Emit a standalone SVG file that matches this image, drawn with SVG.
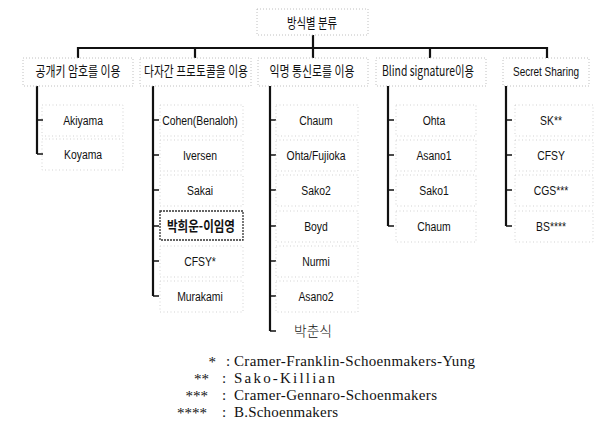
<svg xmlns="http://www.w3.org/2000/svg" width="604" height="422" viewBox="0 0 604 422">
<style>
.bx{fill:none;stroke:#c8c8c8;stroke-width:0.8;stroke-dasharray:1 2.5}
.cb{fill:none;stroke:#b0b0b0;stroke-width:0.8;stroke-dasharray:1 2}
.hb{fill:none;stroke:#333;stroke-width:1.3;stroke-dasharray:2 1}
.ln{stroke:#111;stroke-width:2.2;fill:none}
.tk{stroke:#111;stroke-width:1.6;fill:none}
.n{font-family:"Liberation Sans",Arial,sans-serif;font-size:13.5px;fill:#111;text-anchor:middle;transform-box:fill-box;transform-origin:center;transform:scaleX(0.77)}
.k{font-family:"Noto Sans CJK KR","Liberation Sans",sans-serif;font-size:14px;fill:#111;text-anchor:middle}
.lg{font-family:"Liberation Serif","Times New Roman",serif;font-size:15px;fill:#111}
</style>
<g id="connectors">
<path class="ln" d="M78,48H547M78,47V58M195,47V58M313,35V58M430,47V58M547,47V58"/>
<path class="ln" d="M37,86V154M153,86V296M270,86V331M388,86V226M506,86V226"/>
<path class="tk" d="M37,120h6M37,154h6M153,120h6M153,155h6M153,190h6M153,226h6M153,261h6M153,296h6M270,120h6M270,155h6M270,190h6M270,226h6M270,261h6M270,296h6M270,331h6M388,120h6M388,155h6M388,190h6M388,226h6M506,120h6M506,155h6M506,190h6M506,226h6"/>
</g>
<g id="root"><rect class="cb" x="257" y="9" width="111" height="26"/><text class="k" x="312" y="27.5" textLength="50" lengthAdjust="spacingAndGlyphs">방식별 분류</text></g>
<g id="cat1"><rect class="cb" x="23" y="58" width="110" height="28"/><text class="k" x="78" y="76" textLength="85" lengthAdjust="spacingAndGlyphs">공개키 암호를 이용</text></g>
<g id="cat2"><rect class="cb" x="140" y="58" width="111" height="28"/><text class="k" x="196" y="76" textLength="104" lengthAdjust="spacingAndGlyphs">다자간 프로토콜을 이용</text></g>
<g id="cat3"><rect class="cb" x="258" y="58" width="110" height="28"/><text class="k" x="312" y="76" textLength="85" lengthAdjust="spacingAndGlyphs">익명 통신로를 이용</text></g>
<g id="cat4"><rect class="cb" x="376" y="58" width="110" height="28"/><text class="k" x="428" y="76" textLength="92" lengthAdjust="spacingAndGlyphs">Blind signature이용</text></g>
<g id="cat5"><rect class="cb" x="503" y="58" width="86" height="28"/><text class="n" x="546" y="76.5" style="transform:scaleX(0.74)">Secret Sharing</text></g>
<g id="c1-1"><rect class="bx" x="42" y="105" width="81" height="31"/><text class="n" x="83" y="125">Akiyama</text></g>
<g id="c1-2"><rect class="bx" x="42" y="139" width="81" height="31"/><text class="n" x="83" y="159.5">Koyama</text></g>
<g id="c2-1"><rect class="bx" x="160" y="105" width="83" height="31"/><text class="n" x="200" y="125">Cohen(Benaloh)</text></g>
<g id="c2-2"><rect class="bx" x="160" y="140" width="83" height="31"/><text class="n" x="200" y="160">Iversen</text></g>
<g id="c2-3"><rect class="bx" x="160" y="175" width="83" height="31"/><text class="n" x="200" y="195">Sakai</text></g>
<g id="c2-4"><rect class="hb" x="160" y="211" width="83" height="29"/><text class="k" x="201" y="231" font-weight="bold" textLength="68" lengthAdjust="spacingAndGlyphs">박희운-이임영</text></g>
<g id="c2-5"><rect class="bx" x="160" y="246" width="83" height="31"/><text class="n" x="200" y="266">CFSY*</text></g>
<g id="c2-6"><rect class="bx" x="160" y="281" width="83" height="31"/><text class="n" x="200" y="301">Murakami</text></g>
<g id="c3-1"><rect class="bx" x="276" y="105" width="82" height="31"/><text class="n" x="316" y="125">Chaum</text></g>
<g id="c3-2"><rect class="bx" x="276" y="140" width="82" height="31"/><text class="n" x="316" y="160">Ohta/Fujioka</text></g>
<g id="c3-3"><rect class="bx" x="276" y="175" width="82" height="31"/><text class="n" x="316" y="195">Sako2</text></g>
<g id="c3-4"><rect class="bx" x="276" y="211" width="82" height="31"/><text class="n" x="316" y="231">Boyd</text></g>
<g id="c3-5"><rect class="bx" x="276" y="246" width="82" height="31"/><text class="n" x="316" y="266">Nurmi</text></g>
<g id="c3-6"><rect class="bx" x="276" y="281" width="82" height="31"/><text class="n" x="316" y="301">Asano2</text></g>
<g id="c3-7"><text class="k" x="313" y="336" font-size="12" font-weight="300" textLength="38" lengthAdjust="spacingAndGlyphs">박춘식</text></g>
<g id="c4-1"><rect class="bx" x="396" y="105" width="80" height="31"/><text class="n" x="434" y="125">Ohta</text></g>
<g id="c4-2"><rect class="bx" x="396" y="140" width="80" height="31"/><text class="n" x="434" y="160">Asano1</text></g>
<g id="c4-3"><rect class="bx" x="396" y="175" width="80" height="31"/><text class="n" x="434" y="195">Sako1</text></g>
<g id="c4-4"><rect class="bx" x="396" y="211" width="80" height="31"/><text class="n" x="434" y="231">Chaum</text></g>
<g id="c5-1"><rect class="bx" x="515" y="105" width="78" height="31"/><text class="n" x="551" y="125">SK**</text></g>
<g id="c5-2"><rect class="bx" x="515" y="140" width="78" height="31"/><text class="n" x="551" y="160">CFSY</text></g>
<g id="c5-3"><rect class="bx" x="515" y="175" width="78" height="31"/><text class="n" x="551" y="195">CGS***</text></g>
<g id="c5-4"><rect class="bx" x="515" y="211" width="78" height="31"/><text class="n" x="551" y="231">BS****</text></g>
<g id="legend">
<text class="lg" x="216" y="367" text-anchor="end">*</text><text class="lg" x="226" y="366">:</text><text class="lg" x="234" y="366" textLength="241">Cramer-Franklin-Schoenmakers-Yung</text>
<text class="lg" x="209" y="384" text-anchor="end">**</text><text class="lg" x="222" y="383">:</text><text class="lg" x="234" y="383" textLength="101">Sako-Killian</text>
<text class="lg" x="208" y="401" text-anchor="end">***</text><text class="lg" x="222" y="400">:</text><text class="lg" x="234" y="400" textLength="203">Cramer-Gennaro-Schoenmakers</text>
<text class="lg" x="207" y="418" text-anchor="end">****</text><text class="lg" x="222" y="417">:</text><text class="lg" x="234" y="417" textLength="104">B.Schoenmakers</text>
</g>
</svg>
